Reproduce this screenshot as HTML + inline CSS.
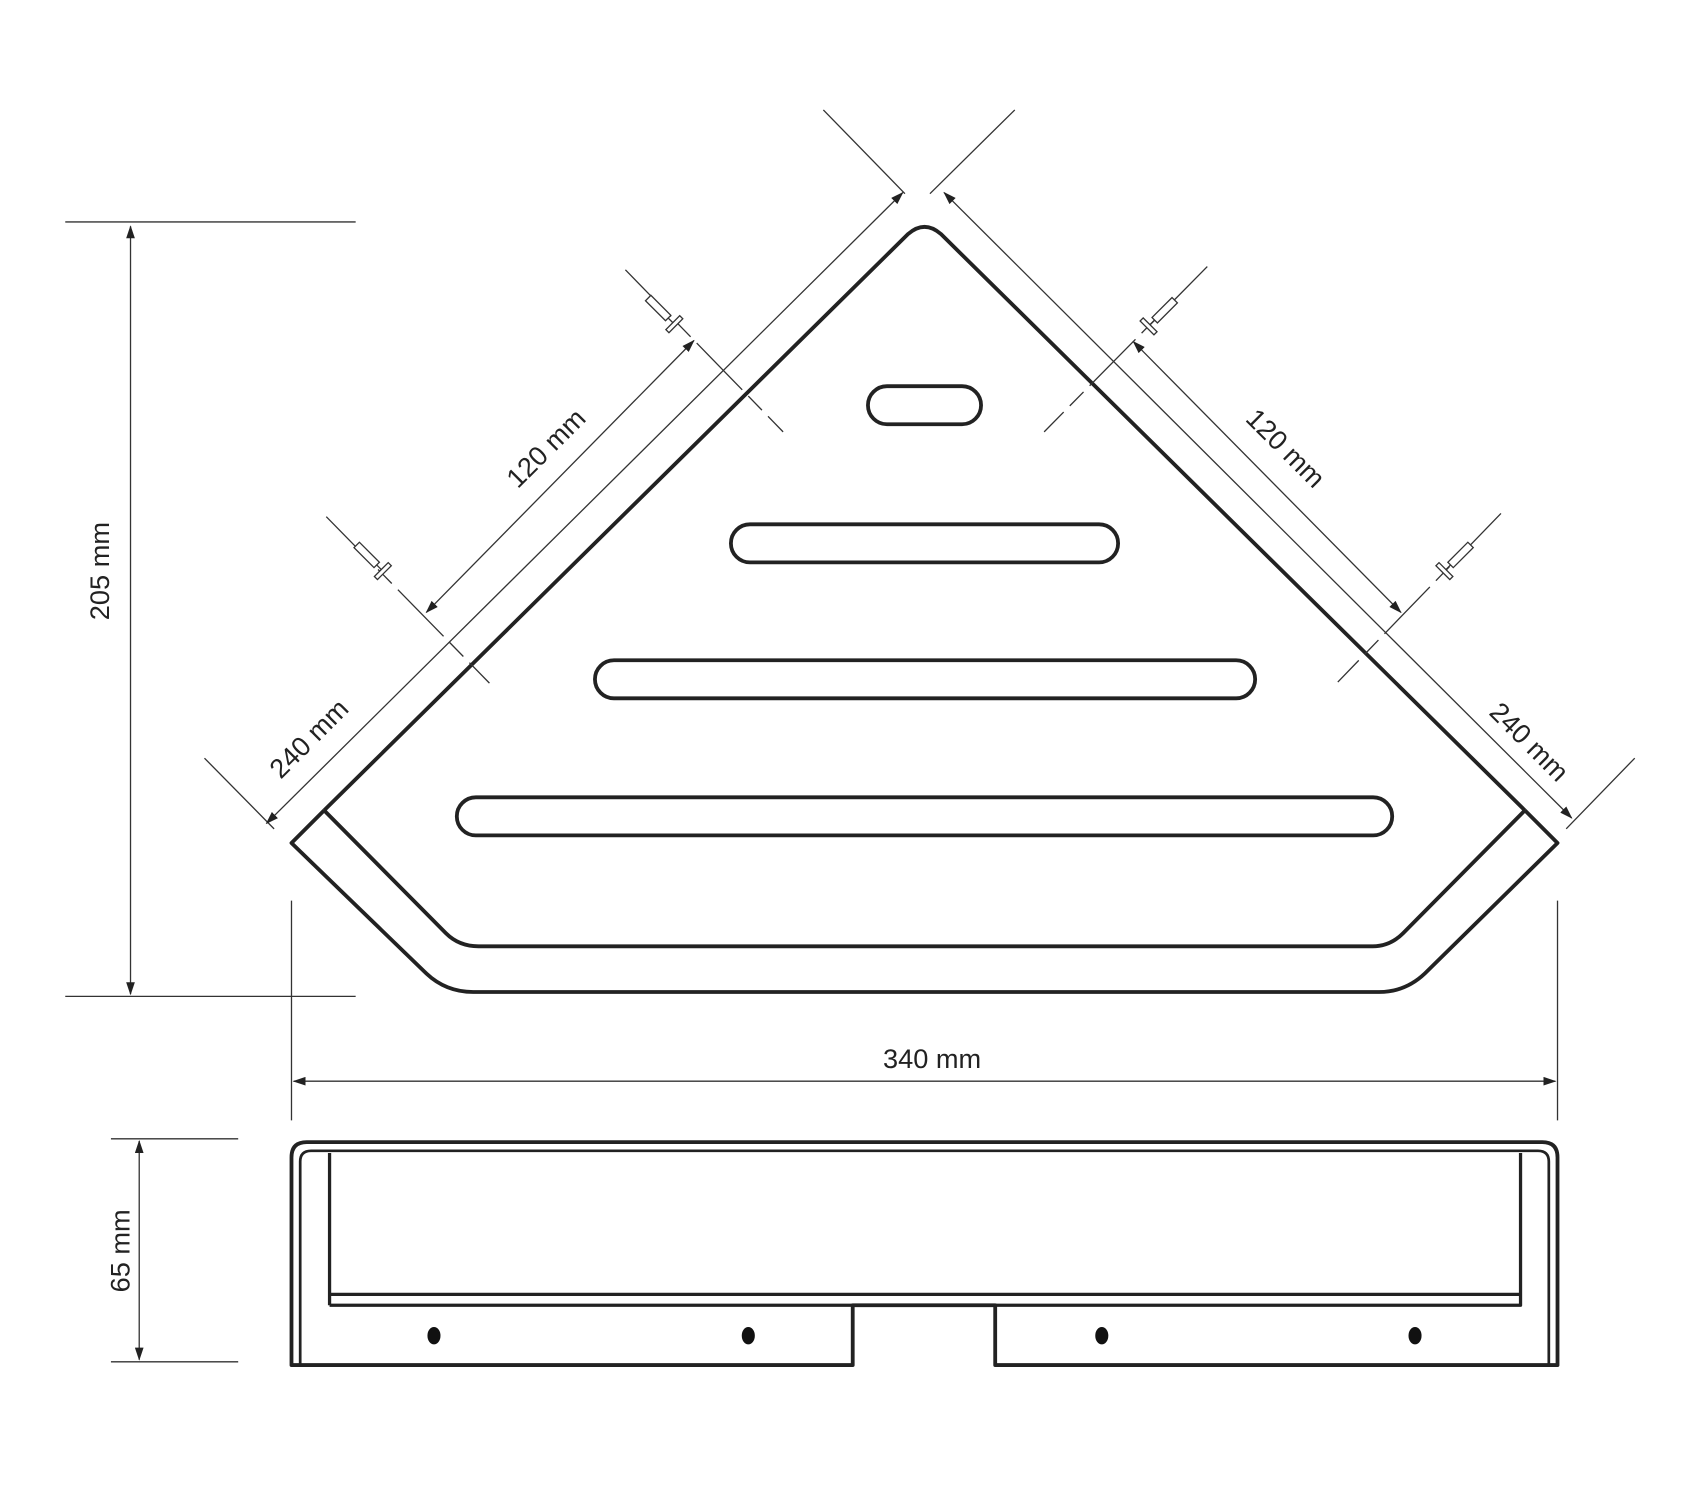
<!DOCTYPE html>
<html><head><meta charset="utf-8"><style>html,body{margin:0;padding:0;background:#fff}svg{display:block}</style></head>
<body>
<svg width="1700" height="1500" viewBox="0 0 1563 1379" xmlns="http://www.w3.org/2000/svg" font-family="Liberation Sans, sans-serif">
<defs>
<marker id="a" markerWidth="12" markerHeight="8" refX="11" refY="4" orient="auto" markerUnits="userSpaceOnUse"><path d="M0,0 L12,4 L0,8 z" fill="#222"/></marker>
<marker id="b" markerWidth="12" markerHeight="8" refX="1" refY="4" orient="auto" markerUnits="userSpaceOnUse"><path d="M12,0 L0,4 L12,8 z" fill="#222"/></marker>
</defs>
<rect width="1563" height="1379" fill="#fff"/>
<g fill="none" stroke="#222" stroke-width="3.5" stroke-linejoin="round">
<!-- triangle shelf -->
<path d="M298,745 L835,215 Q850,202 865,215 L1402,745"/>
<path d="M298,745 L268,775 L392,895 Q410,912 435,912 L1268,912 Q1292,912 1310,895 L1432,775 L1402,745"/>
<path d="M298,745 L410,858 Q422,870 440,870 L1262,870 Q1278,870 1290,858 L1402,745"/>
<rect x="798" y="355" width="104" height="35" rx="17.5"/>
<rect x="672" y="482" width="356" height="35" rx="17.5"/>
<rect x="547" y="607" width="607" height="35" rx="17.5"/>
<rect x="420" y="733" width="860" height="35" rx="17.5"/>
<!-- front view -->
<path d="M268,1255 V1064 Q268,1050 282,1050 H1418 Q1432,1050 1432,1064 V1255 H915 V1200 H784 V1255 Z"/>
<path d="M276,1255 V1068 Q276,1058 286,1058 H1414 Q1424,1058 1424,1068 V1255" stroke-width="2.5"/>
<path d="M303,1200 V1060 M303,1200 H1398 V1060 M303,1190 H1398" stroke-width="3"/>
</g>
<g fill="#111">
<ellipse cx="399" cy="1228" rx="6" ry="8"/><ellipse cx="688" cy="1228" rx="6" ry="8"/>
<ellipse cx="1013" cy="1228" rx="6" ry="8"/><ellipse cx="1301" cy="1228" rx="6" ry="8"/>
</g>
<g fill="none" stroke="#333" stroke-width="1.2">
<!-- 205 -->
<line x1="60" y1="204" x2="327" y2="204"/><line x1="60" y1="916" x2="327" y2="916"/>
<line x1="120" y1="208" x2="120" y2="914" marker-start="url(#b)" marker-end="url(#a)"/>
<!-- 340 -->
<line x1="268" y1="828" x2="268" y2="1030"/><line x1="1432" y1="828" x2="1432" y2="1030"/>
<line x1="270" y1="994" x2="1430" y2="994" marker-start="url(#b)" marker-end="url(#a)"/>
<!-- 65 -->
<line x1="102" y1="1047" x2="219" y2="1047"/><line x1="102" y1="1252" x2="219" y2="1252"/>
<line x1="128" y1="1049" x2="128" y2="1250" marker-start="url(#b)" marker-end="url(#a)"/>
<!-- diagonal ext -->
<line x1="757" y1="101" x2="832" y2="178"/><line x1="933" y1="101" x2="855" y2="178"/>
<line x1="188" y1="697" x2="252" y2="762"/><line x1="1503" y1="697" x2="1440" y2="762"/>
<line x1="245" y1="757" x2="830" y2="177" marker-start="url(#b)" marker-end="url(#a)"/>
<line x1="868" y1="177" x2="1445" y2="752" marker-start="url(#b)" marker-end="url(#a)"/>
<line x1="392" y1="563" x2="638" y2="313" marker-start="url(#b)" marker-end="url(#a)"/>
<line x1="1042" y1="314" x2="1288" y2="563" marker-start="url(#b)" marker-end="url(#a)"/>
<path d="M575,248 L720,397" stroke-dasharray="60,8,18,8"/>
<path d="M300,475 L450,628" stroke-dasharray="60,8,18,8"/>
<path d="M1110,245 L960,397" stroke-dasharray="60,8,18,8"/>
<path d="M1380,472 L1230,627" stroke-dasharray="60,8,18,8"/>
</g>
<!-- screws -->
<g fill="#fff" stroke="#333" stroke-width="1.2">
<g transform="translate(620,298) rotate(45)"><rect x="-34" y="-3.5" width="26" height="7"/><rect x="-2" y="-9" width="4" height="18"/><line x1="-8" y1="0" x2="-2" y2="0"/></g>
<g transform="translate(352,525) rotate(45)"><rect x="-34" y="-3.5" width="26" height="7"/><rect x="-2" y="-9" width="4" height="18"/><line x1="-8" y1="0" x2="-2" y2="0"/></g>
<g transform="translate(1056,300) rotate(135)"><rect x="-34" y="-3.5" width="26" height="7"/><rect x="-2" y="-9" width="4" height="18"/><line x1="-8" y1="0" x2="-2" y2="0"/></g>
<g transform="translate(1328,525) rotate(135)"><rect x="-34" y="-3.5" width="26" height="7"/><rect x="-2" y="-9" width="4" height="18"/><line x1="-8" y1="0" x2="-2" y2="0"/></g>
</g>
<g fill="#222" font-size="25" text-anchor="middle">
<text x="0" y="0" transform="translate(100,525) rotate(-90)">205 mm</text>
<text x="857" y="982">340 mm</text>
<text x="0" y="0" transform="translate(119,1150) rotate(-90)">65 mm</text>
<text x="0" y="0" transform="translate(508,418) rotate(-45)">120 mm</text>
<text x="0" y="0" transform="translate(290,685) rotate(-45)">240 mm</text>
<text x="0" y="0" transform="translate(1176,418) rotate(45)">120 mm</text>
<text x="0" y="0" transform="translate(1400,688) rotate(45)">240 mm</text>
</g>
</svg>
</body></html>
